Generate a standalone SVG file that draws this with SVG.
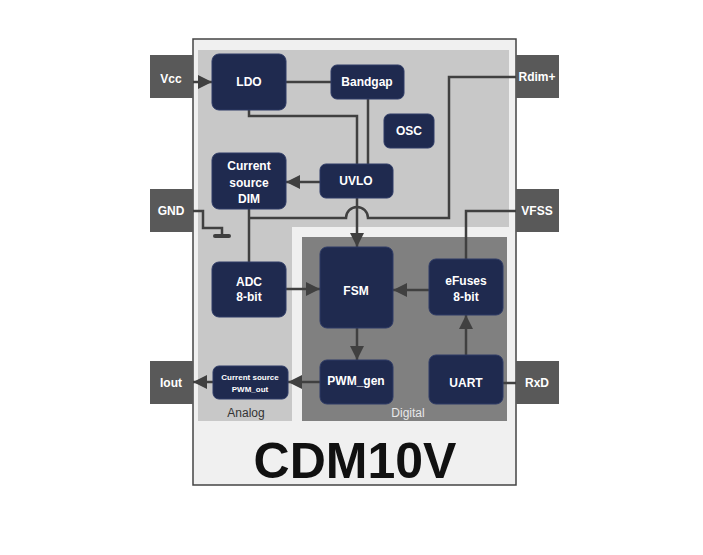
<svg xmlns="http://www.w3.org/2000/svg" width="703" height="555" viewBox="0 0 703 555">
<defs>
<style>
.node{fill:#1f2a4f;stroke:#2e3b66;stroke-width:1}
.pin{fill:#595959}
.t{font-family:"Liberation Sans",Arial,sans-serif;font-weight:bold;font-size:12px;fill:#fff;text-anchor:middle}
.ts{font-family:"Liberation Sans",Arial,sans-serif;font-weight:bold;font-size:8px;fill:#fff;text-anchor:middle}
.w{fill:none;stroke:#404040;stroke-width:2.5}
.lbl{font-family:"Liberation Sans",Arial,sans-serif;font-size:12px;text-anchor:middle}
</style>
<marker id="ah" markerUnits="userSpaceOnUse" markerWidth="14" markerHeight="14" refX="14" refY="7" orient="auto">
<path d="M0,0 L14,7 L0,14 z" fill="#404040"/>
</marker>
</defs>
<rect width="703" height="555" fill="#fff"/>
<g id="chip">
<rect x="193" y="39" width="323" height="446" fill="#f0f0f0" stroke="#444" stroke-width="1.5"/>
<path d="M198,50 H509 V227 H292 V421 H198 Z" fill="#c8c8c8"/>
<rect x="302" y="237" width="205" height="184" fill="#808080"/>
<text class="lbl" x="246" y="417" fill="#333">Analog</text>
<text class="lbl" x="408" y="417" fill="#e8e8e8">Digital</text>
<text x="355" y="478" font-family="'Liberation Sans',Arial,sans-serif" font-weight="bold" font-size="50" text-anchor="middle" fill="#111">CDM10V</text>
</g>
<g id="pins">
<g id="pin-vcc"><rect class="pin" x="150" y="55" width="43" height="43"/><text class="t" x="171" y="83">Vcc</text></g>
<g id="pin-gnd"><rect class="pin" x="150" y="189" width="43" height="43"/><text class="t" x="171" y="215">GND</text></g>
<g id="pin-iout"><rect class="pin" x="150" y="361" width="43" height="43"/><text class="t" x="171" y="387">Iout</text></g>
<g id="pin-rdim"><rect class="pin" x="516" y="55" width="43" height="43"/><text class="t" x="537" y="81">Rdim+</text></g>
<g id="pin-vfss"><rect class="pin" x="516" y="189" width="43" height="43"/><text class="t" x="537" y="215">VFSS</text></g>
<g id="pin-rxd"><rect class="pin" x="516" y="361" width="43" height="43"/><text class="t" x="537" y="387">RxD</text></g>
</g>
<g id="connectors">
<line class="w" x1="193" y1="82" x2="212" y2="82" marker-end="url(#ah)"/>
<line class="w" x1="286" y1="82" x2="331" y2="82"/>
<polyline class="w" points="249,110 249,116 357,116 357,164"/>
<line class="w" x1="368" y1="99" x2="368" y2="164"/>
<line class="w" x1="320" y1="182" x2="286" y2="182" marker-end="url(#ah)"/>
<line class="w" x1="357" y1="198" x2="357" y2="247" marker-end="url(#ah)"/>
<path class="w" d="M516,77 H449 V218 H368 A11,11 0 0 0 346,218 H249"/>
<line class="w" x1="249" y1="209" x2="249" y2="262"/>
<polyline class="w" points="193,211 203,211 203,228 222,228 222,235"/>
<rect x="213" y="234" width="18" height="4" rx="2" fill="#404040"/>
<line class="w" x1="286" y1="289" x2="320" y2="289" marker-end="url(#ah)"/>
<line class="w" x1="429" y1="290" x2="393" y2="290" marker-end="url(#ah)"/>
<line class="w" x1="357" y1="328" x2="357" y2="360" marker-end="url(#ah)"/>
<line class="w" x1="466" y1="355" x2="466" y2="315" marker-end="url(#ah)"/>
<polyline class="w" points="516,211 466,211 466,259"/>
<line class="w" x1="516" y1="383" x2="503" y2="383"/>
<line class="w" x1="320" y1="382" x2="288" y2="382" marker-end="url(#ah)"/>
<line class="w" x1="213" y1="382" x2="193" y2="382" marker-end="url(#ah)"/>
</g>
<g id="ldo"><rect class="node" x="212" y="54" width="74" height="56" rx="7"/><text class="t" x="249" y="86">LDO</text></g>
<g id="bandgap"><rect class="node" x="331" y="65" width="73" height="34" rx="6"/><text class="t" x="367" y="86">Bandgap</text></g>
<g id="osc"><rect class="node" x="384" y="114" width="50" height="34" rx="6"/><text class="t" x="409" y="135">OSC</text></g>
<g id="csdim"><rect class="node" x="212" y="153" width="74" height="56" rx="7"/><text class="t" x="249" y="170">Current</text><text class="t" x="249" y="187">source</text><text class="t" x="249" y="203">DIM</text></g>
<g id="uvlo"><rect class="node" x="320" y="164" width="73" height="34" rx="6"/><text class="t" x="356" y="185">UVLO</text></g>
<g id="adc"><rect class="node" x="212" y="262" width="74" height="55" rx="7"/><text class="t" x="249" y="286">ADC</text><text class="t" x="249" y="301">8-bit</text></g>
<g id="fsm"><rect class="node" x="320" y="247" width="73" height="81" rx="7"/><text class="t" x="356" y="295">FSM</text></g>
<g id="efuses"><rect class="node" x="429" y="259" width="74" height="56" rx="7"/><text class="t" x="466" y="285">eFuses</text><text class="t" x="466" y="301">8-bit</text></g>
<g id="pwmgen"><rect class="node" x="320" y="360" width="73" height="44" rx="7"/><text class="t" x="356" y="385">PWM_gen</text></g>
<g id="uart"><rect class="node" x="429" y="355" width="74" height="49" rx="7"/><text class="t" x="466" y="387">UART</text></g>
<g id="cspwm"><rect class="node" x="213" y="366" width="75" height="33" rx="6"/><text class="ts" x="250" y="380">Current source</text><text class="ts" x="250" y="392">PWM_out</text></g>
</svg>
